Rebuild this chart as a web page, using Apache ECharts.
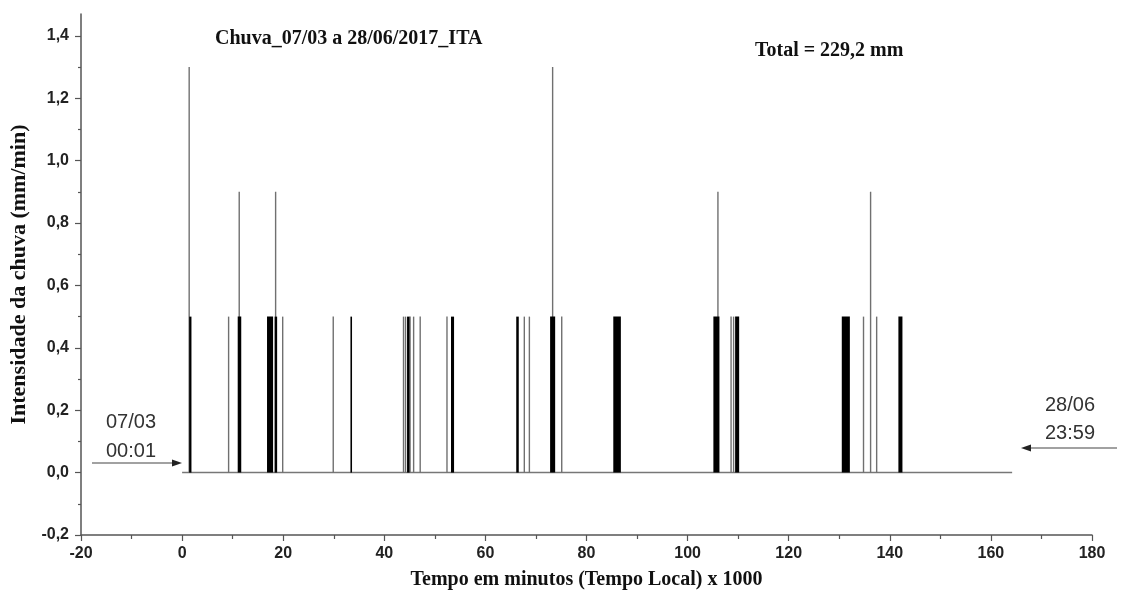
<!DOCTYPE html>
<html>
<head>
<meta charset="utf-8">
<title>Chuva_07/03 a 28/06/2017_ITA</title>
<script src="https://cdn.jsdelivr.net/npm/echarts@6/dist/echarts.min.js"></script>
<style>
  html, body { margin: 0; padding: 0; background: #fff; }
  #chart { width: 1128px; height: 593px; }
</style>
</head>
<body>
<div id="chart"></div>
<script>
// tempo em minutos x 1000, intensidade em mm/min
const singleX = [9.2, 19.9, 29.9, 43.8, 44.2, 45.1, 45.8, 47.1, 52.4, 67.7, 68.7, 75.1, 108.6, 109.1, 134.8, 137.4]
const singleY = [0.5, 0.5, 0.5, 0.5, 0.5, 0.5, 0.5, 0.5, 0.5, 0.5, 0.5, 0.5, 0.5, 0.5, 0.5, 0.5]

const peakX = [1.4, 11.3, 18.5, 73.3, 106.0, 136.2]
const peakY = [1.3, 0.9, 0.9, 1.3, 0.9, 0.9]

const blockStart = [1.4, 11.0, 16.8, 18.3, 33.3, 44.5, 53.2, 66.1, 72.8, 85.3, 105.1, 109.4, 130.5, 141.7]
const blockEnd = [1.85, 11.7, 18.0, 18.8, 33.6, 45.0, 53.8, 66.6, 73.8, 86.8, 106.3, 110.2, 132.1, 142.5]
const blockY = [0.5, 0.5, 0.5, 0.5, 0.5, 0.5, 0.5, 0.5, 0.5, 0.5, 0.5, 0.5, 0.5, 0.5]

const baseX = [0, 164.2]
const baseY = [0, 0]

const yTicks = [-0.2, 0, 0.2, 0.4, 0.6, 0.8, 1.0, 1.2, 1.4]

const titleText = 'Chuva_07/03 a 28/06/2017_ITA'
const totalText = 'Total = 229,2 mm'

const chart = echarts.init(document.getElementById('chart'))

const spikeData = singleX.map((x, i) => [x, singleY[i]]).concat(peakX.map((x, i) => [x, peakY[i]]))
const blockData = blockStart.map((s, i) => [s, blockEnd[i], blockY[i]])

const axisFont = {
  fontFamily: 'Liberation Sans, Arial, sans-serif',
  fontWeight: 'bold',
  fontSize: 16,
  color: '#222'
}

const option = {
  animation: false,
  grid: {
    left: 81,
    right: 36,
    top: 14,
    bottom: 58,
    outerBoundsMode: 'none'
  },
  xAxis: {
    type: 'value',
    min: -20,
    max: 180,
    interval: 20,
    name: 'Tempo em minutos (Tempo Local) x 1000',
    nameLocation: 'middle',
    nameGap: 35,
    nameTextStyle: {
      fontFamily: 'Liberation Serif, Times New Roman, serif',
      fontWeight: 'bold',
      fontSize: 20,
      color: '#111'
    },
    axisLine: { show: true, onZero: false, lineStyle: { color: '#555', width: 1.5 } },
    axisTick: { show: true, length: 6, lineStyle: { color: '#555', width: 1.2 } },
    minorTick: { show: true, splitNumber: 2, length: 4, lineStyle: { color: '#555', width: 1.2 } },
    axisLabel: Object.assign({ margin: 11 }, axisFont),
    splitLine: { show: false }
  },
  yAxis: {
    type: 'value',
    min: -0.2,
    max: 1.47,
    interval: 0.2,
    name: 'Intensidade da chuva (mm/min)',
    nameLocation: 'middle',
    nameGap: 51,
    nameTextStyle: {
      fontFamily: 'Liberation Serif, Times New Roman, serif',
      fontWeight: 'bold',
      fontSize: 22,
      color: '#111'
    },
    axisLine: { show: true, onZero: false, lineStyle: { color: '#555', width: 1.5 } },
    axisTick: { show: true, length: 6, customValues: yTicks, lineStyle: { color: '#555', width: 1.2 } },
    minorTick: { show: true, splitNumber: 2, length: 3, lineStyle: { color: '#555', width: 1.2 } },
    axisLabel: Object.assign({
      margin: 12,
      customValues: yTicks,
      formatter: (v) => v.toFixed(1).replace('.', ',')
    }, axisFont),
    splitLine: { show: false }
  },
  series: [
    {
      // linha de base
      type: 'line',
      data: baseX.map((x, i) => [x, baseY[i]]),
      showSymbol: false,
      lineStyle: { color: '#777', width: 1.5 },
      z: 1
    },
    {
      // eventos isolados
      type: 'custom',
      data: spikeData,
      renderItem: (params, api) => {
        const p0 = api.coord([api.value(0), 0])
        const p1 = api.coord([api.value(0), api.value(1)])
        return {
          type: 'line',
          shape: { x1: p0[0], y1: p0[1], x2: p1[0], y2: p1[1] },
          style: { stroke: '#707070', lineWidth: 1.4 }
        }
      },
      z: 2
    },
    {
      // grupos de eventos
      type: 'custom',
      data: blockData,
      renderItem: (params, api) => {
        const p0 = api.coord([api.value(0), api.value(2)])
        const p1 = api.coord([api.value(1), 0])
        return {
          type: 'rect',
          shape: { x: p0[0], y: p0[1], width: Math.max(p1[0] - p0[0], 1.6), height: p1[1] - p0[1] },
          style: { fill: '#000' }
        }
      },
      z: 3
    }
  ],
  graphic: [
    {
      type: 'text',
      left: 215,
      top: 29,
      style: {
        text: titleText,
        font: 'bold 20px "Liberation Serif", "Times New Roman", serif',
        fill: '#111'
      }
    },
    {
      type: 'text',
      left: 755,
      top: 41,
      style: {
        text: totalText,
        font: 'bold 20px "Liberation Serif", "Times New Roman", serif',
        fill: '#111'
      }
    },
    {
      type: 'text',
      left: 106,
      top: 408,
      style: {
        text: '07/03\n00:01',
        font: '20px "Liberation Sans", Arial, sans-serif',
        lineHeight: 29,
        fill: '#333'
      }
    },
    {
      type: 'text',
      left: 1045,
      top: 391,
      style: {
        text: '28/06\n23:59',
        font: '20px "Liberation Sans", Arial, sans-serif',
        lineHeight: 28,
        fill: '#333'
      }
    },
    {
      type: 'group',
      children: [
        { type: 'line', shape: { x1: 92, y1: 463, x2: 176, y2: 463 }, style: { stroke: '#444', lineWidth: 1.2 } },
        { type: 'polygon', shape: { points: [[182, 463], [172, 459.5], [172, 466.5]] }, style: { fill: '#222' } }
      ]
    },
    {
      type: 'group',
      children: [
        { type: 'line', shape: { x1: 1027, y1: 448, x2: 1117, y2: 448 }, style: { stroke: '#444', lineWidth: 1.2 } },
        { type: 'polygon', shape: { points: [[1021, 448], [1031, 444.5], [1031, 451.5]] }, style: { fill: '#222' } }
      ]
    }
  ]
}

chart.setOption(option)
</script>
</body>
</html>
